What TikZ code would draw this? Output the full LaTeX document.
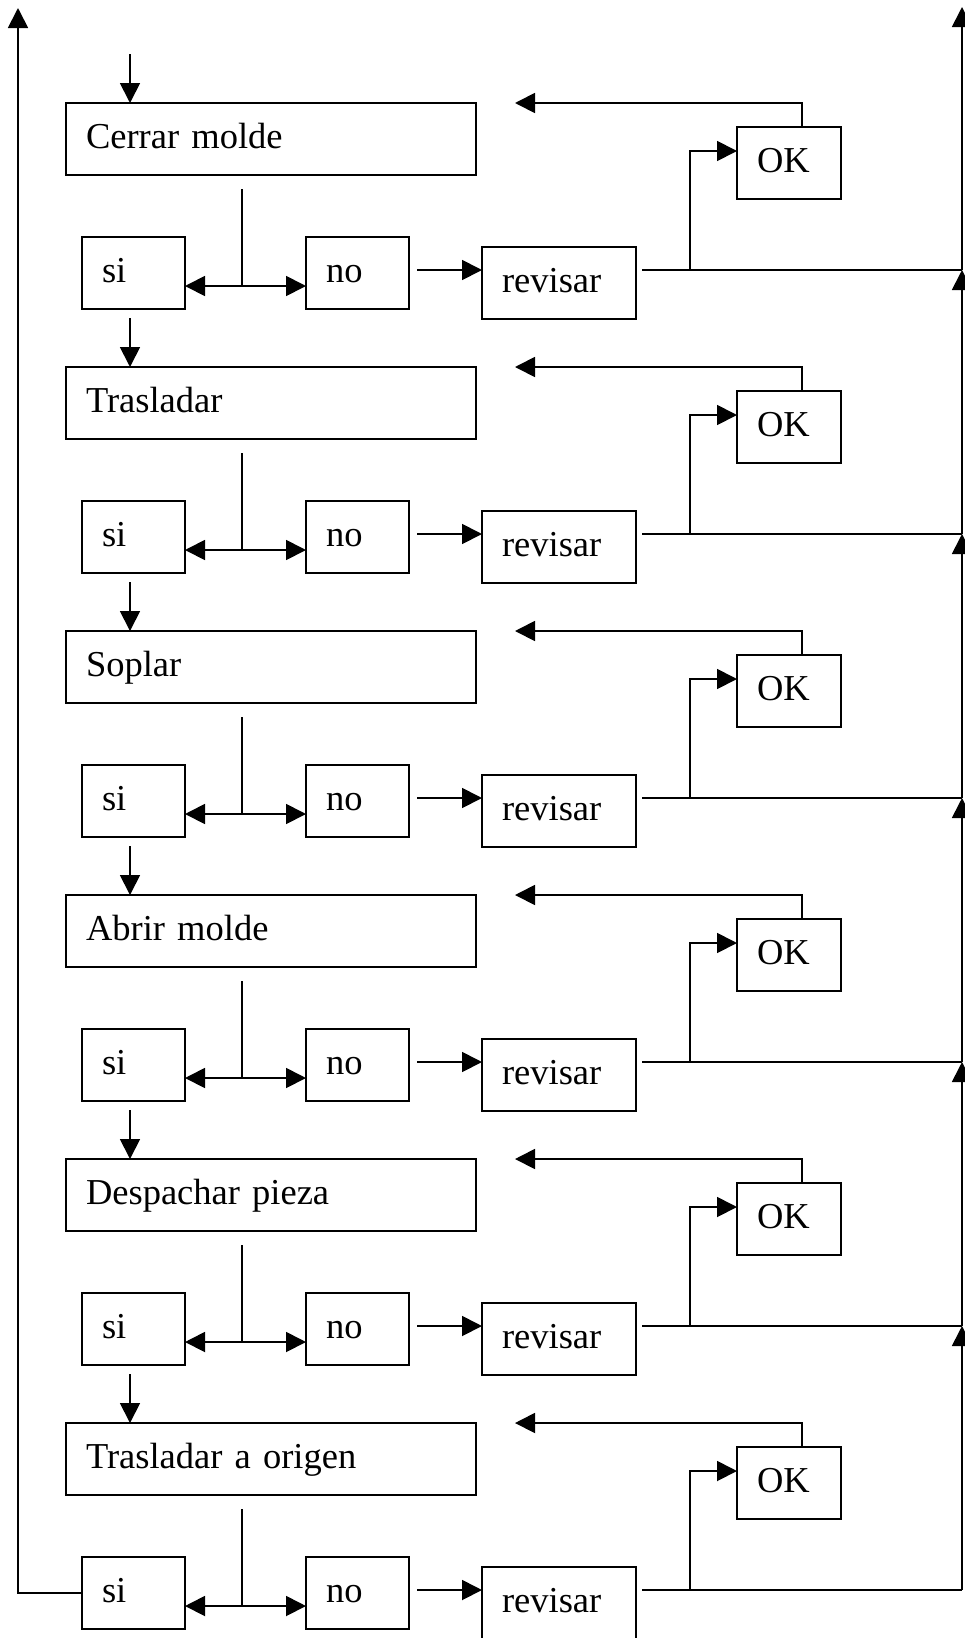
\documentclass[tikz,border=0pt]{standalone}
\usepackage{fontspec}
\setmainfont{Liberation Serif}
\usetikzlibrary{arrows.meta,calc}
\begin{document}
\begin{tikzpicture}[x=1pt,y=-1pt,
  box/.style={draw, line width=1.8pt, anchor=north west, inner xsep=20pt, inner ysep=0pt, outer sep=0pt, text height=45pt, text depth=27pt, align=left, font=\fontsize{36.5}{40}\selectfont},
  ln/.style={line width=1.8pt},
  arr/.style={line width=1.8pt, -{Triangle[length=20pt,width=20pt]}}]
\useasboundingbox (0,0) rectangle (964,1638);
\foreach \k/\t in {0/Cerrar molde,1/Trasladar,2/Soplar,3/Abrir molde,4/Despachar pieza,5/Trasladar a origen}{
  \pgfmathsetmacro\d{264*\k}
  \node[box, text width=370pt] (s\k) at (66,{103+\d}) {\t};
  \node[box, text width=63pt] (y\k) at (82,{237+\d}) {si};
  \node[box, text width=63pt] (n\k) at (306,{237+\d}) {no};
  \node[box, text width=114pt] (r\k) at (482,{247+\d}) {revisar};
  \node[box, text width=64pt] (o\k) at (737,{127+\d}) {OK};
  \coordinate (t\k) at (242,{189+\d});
  \coordinate (j\k) at (242,{286+\d});
  \coordinate (a\k) at (417,{270+\d});
  \coordinate (b\k) at (642,{270+\d});
  \coordinate (c\k) at (690,{270+\d});
  \coordinate (e\k) at (962,{270+\d});
  \coordinate (p\k) at (690,{151+\d});
  \coordinate (q\k) at (802,{103+\d});
  \coordinate (m\k) at (515,{103+\d});
  \coordinate (d\k) at (130,{318+\d});
  \draw[ln] (t\k) -- (j\k);
  \draw[arr] (j\k) -- (j\k -| y\k.east);
  \draw[arr] (j\k) -- (j\k -| n\k.west);
  \draw[arr] (a\k) -- (a\k -| r\k.west);
  \draw[ln] (b\k) -- (e\k);
  \draw[arr] (c\k) -- (p\k) -- (p\k -| o\k.west);
  \draw[arr] (q\k |- o\k.north) -- (q\k) -- (m\k);
}
\foreach \k [evaluate=\k as \kk using int(\k+1)] in {0,...,4}{
  \draw[arr] (d\k) -- (d\k |- s\kk.north);
  \draw[arr] (e\kk) -- (e\k);
}
\coordinate (in) at (130,54);
\draw[arr] (in) -- (in |- s0.north);
\coordinate (tr) at (962,7);
\draw[arr] (e0) -- (tr);
\coordinate (tl) at (18,8);
\draw[arr] (y5.west) -| (tl);
\end{tikzpicture}
\end{document}
